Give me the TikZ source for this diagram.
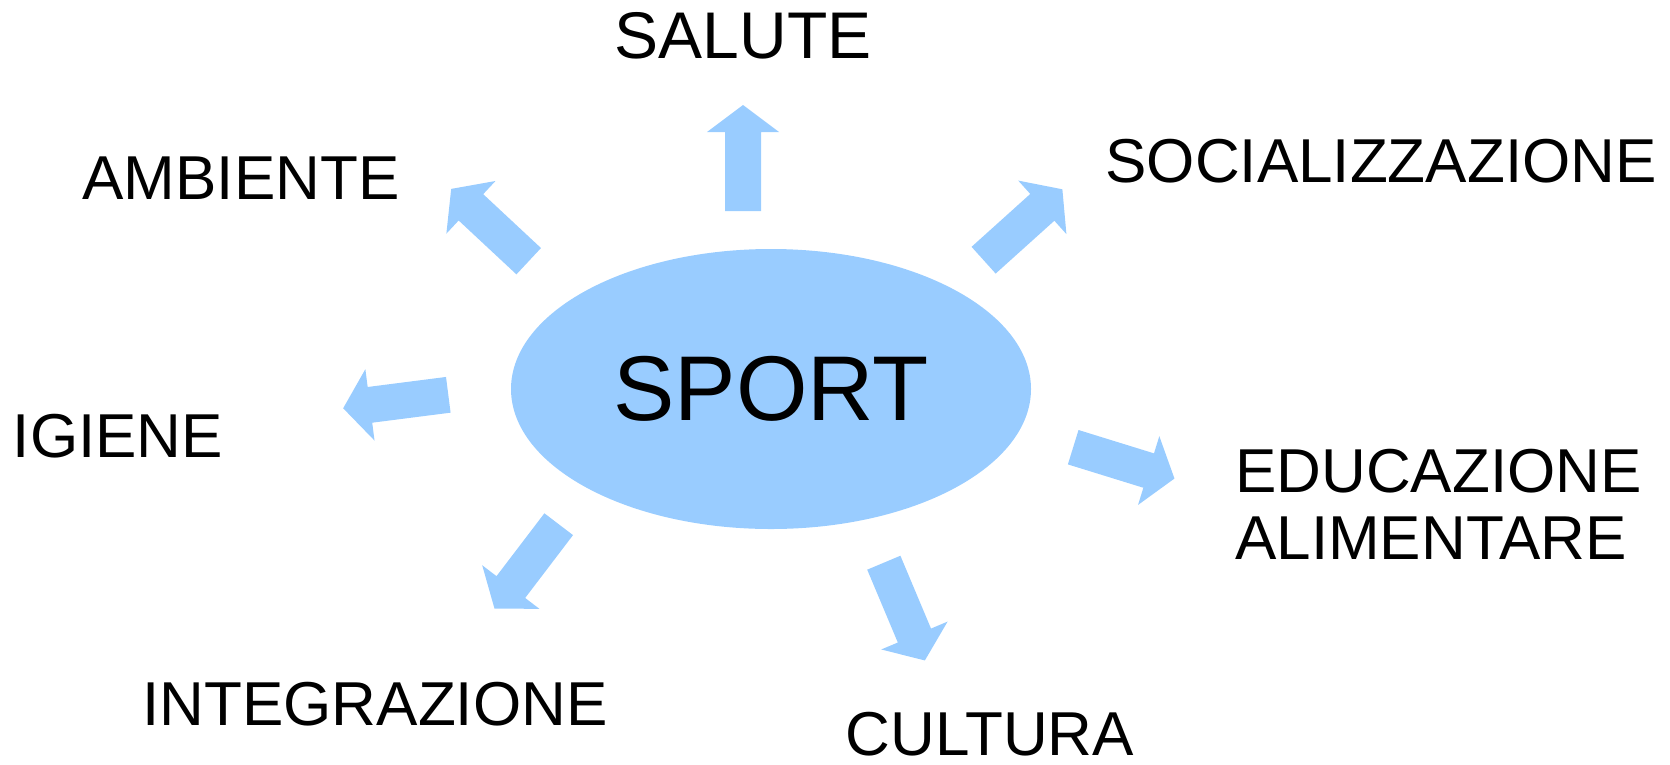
\documentclass[tikz,border=0pt]{standalone}
\usepackage{fontspec}
\setmainfont{Liberation Sans}
\usetikzlibrary{shapes.geometric}
\begin{document}
\begin{tikzpicture}[x=1pt, y=-1pt]
        % Colore
        \definecolor{azzurro}{HTML}{99CCFF}
        \tikzset{voce/.style={font=\fontsize{62}{67}\selectfont, inner sep=0pt, anchor=base}}

        \useasboundingbox (0,0) rectangle (1670,764);

        % Ellisse centrale
        \node[ellipse, fill=azzurro, minimum width=520pt, minimum height=280pt, inner sep=0pt, font=\fontsize{92}{92}\selectfont] (sport) at (771,389) {SPORT};

        % Frecce: {coda x/coda y/angolo}
        \foreach \x/\y/\ang in {743/211/90, 528.7/261.2/137, 983.6/260.2/42, 448.3/394.8/187.3, 558.7/524.2/232.7, 883.8/562.7/292.8, 1073.2/447.2/342.8} {
            \begin{scope}[shift={(\x,\y)}, rotate=\ang]
                \fill[azzurro] (0,-18) -- (79,-18) -- (79,-36) -- (106,0) -- (79,36) -- (79,18) -- (0,18) -- cycle;
            \end{scope}
        }

        % Voci intorno
        \node[voce, font=\fontsize{66}{66}\selectfont] (salute) at (743,58) {SALUTE};
        \node[voce] (ambiente) at (241,199) {AMBIENTE};
        \node[voce] (socializzazione) at (1381,182) {SOCIALIZZAZIONE};
        \node[voce] (igiene) at (118,457) {IGIENE};
        \node[voce, anchor=base west, align=left] (educazione) at (1235,559) {EDUCAZIONE\\ALIMENTARE};
        \node[voce] (integrazione) at (375,725) {INTEGRAZIONE};
        \node[voce] (cultura) at (990,755) {CULTURA};
\end{tikzpicture}
\end{document}
